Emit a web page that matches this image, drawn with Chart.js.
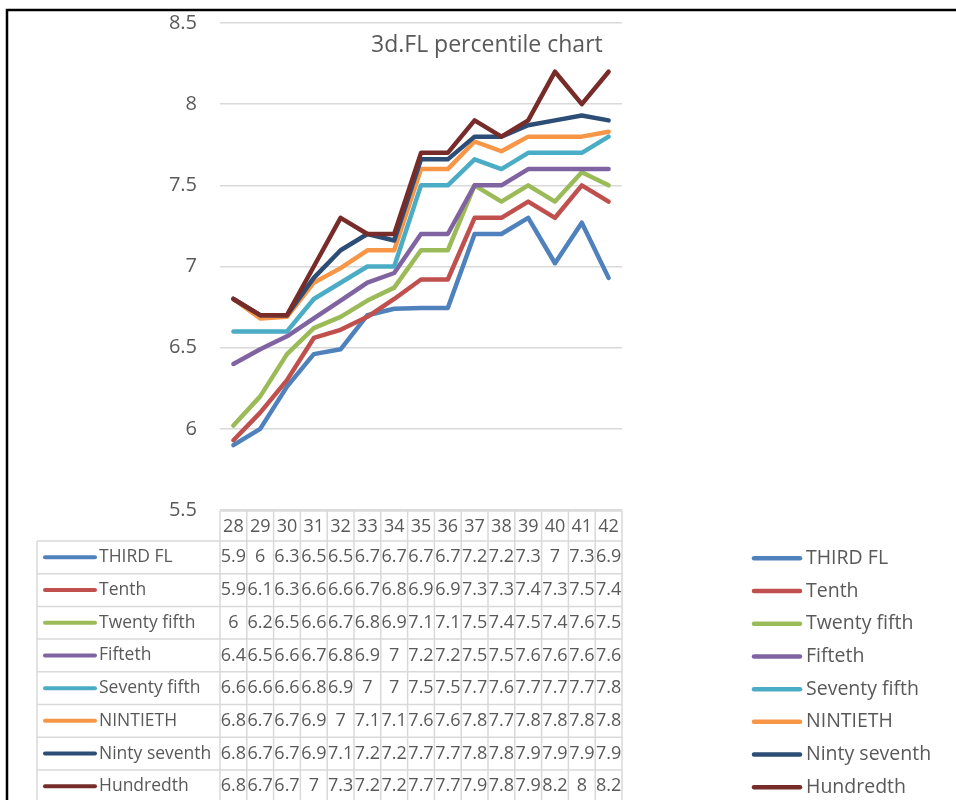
<!DOCTYPE html>
<html>
<head>
<meta charset="utf-8">
<script src="https://cdn.jsdelivr.net/npm/chart.js@4.4.1/dist/chart.umd.min.js"></script>
<style>
  html, body { margin: 0; padding: 0; background: #ffffff; }
  #wrap { position: relative; width: 956px; height: 800px; overflow: hidden; }
</style>
</head>
<body>
<div id="wrap"><canvas id="fl" width="956" height="800"></canvas></div>
<script>
// weeks along the x axis
const categories = ['28', '29', '30', '31', '32', '33', '34', '35', '36', '37', '38', '39', '40', '41', '42'];

// percentile series
const thirdFl      = [5.9, 6.0, 6.26, 6.46, 6.49, 6.7, 6.74, 6.745, 6.745, 7.2, 7.2, 7.3, 7.02, 7.27, 6.93];
const tenth        = [5.93, 6.1, 6.3, 6.56, 6.61, 6.69, 6.8, 6.92, 6.92, 7.3, 7.3, 7.4, 7.3, 7.5, 7.4];
const twentyFifth  = [6.02, 6.2, 6.46, 6.62, 6.69, 6.79, 6.87, 7.1, 7.1, 7.5, 7.4, 7.5, 7.4, 7.58, 7.5];
const fifteth      = [6.4, 6.49, 6.57, 6.68, 6.79, 6.9, 6.96, 7.2, 7.2, 7.5, 7.5, 7.6, 7.6, 7.6, 7.6];
const seventyFifth = [6.6, 6.6, 6.6, 6.8, 6.9, 7.0, 7.0, 7.5, 7.5, 7.66, 7.6, 7.7, 7.7, 7.7, 7.8];
const nintieth     = [6.8, 6.68, 6.69, 6.9, 6.99, 7.1, 7.1, 7.6, 7.6, 7.77, 7.71, 7.8, 7.8, 7.8, 7.83];
const nintySeventh = [6.8, 6.7, 6.7, 6.93, 7.1, 7.2, 7.16, 7.66, 7.66, 7.8, 7.8, 7.87, 7.9, 7.93, 7.9];
const hundredth    = [6.8, 6.7, 6.7, 7.0, 7.3, 7.2, 7.2, 7.7, 7.7, 7.9, 7.8, 7.9, 8.2, 8.0, 8.2];

const seriesNames = ['THIRD FL', 'Tenth', 'Twenty fifth', 'Fifteth', 'Seventy fifth', 'NINTIETH', 'Ninty seventh', 'Hundredth'];
const seriesData = [thirdFl, tenth, twentyFifth, fifteth, seventyFifth, nintieth, nintySeventh, hundredth];
const seriesColors = ['#4F81BD', '#C0504D', '#9BBB59', '#8064A2', '#4BACC6', '#F79646', '#2C4D75', '#772C2A'];

const chartTitle = '3d.FL percentile chart';

const textColor = '#595959';
const gridColor = '#d9d9d9';

// format a value the way the data table shows it
function cellText(v) {
    return String(Math.round(v * 10) / 10);
}

// draws the title, data table, right legend and the frame
const tablePlugin = {
    id: 'dataTable',
    afterDraw(chart) {
        const ctx = chart.ctx;
        const area = chart.chartArea;
        const xs = chart.scales.x;
        const colW = (area.right - area.left) / categories.length;
        const top = area.bottom + 1;
        const headH = 30;
        const rowH = 32.7;
        const bodyTop = top + headH;
        const legLeft = 37;
        const bottom = chart.height + 5;

        ctx.save();

        // title inside the plot
        ctx.fillStyle = textColor;
        ctx.font = '23px "Open Sans", sans-serif';
        ctx.textAlign = 'left';
        ctx.textBaseline = 'middle';
        ctx.fillText(chartTitle, 371, 45);

        // table grid
        ctx.strokeStyle = gridColor;
        ctx.lineWidth = 1.5;
        ctx.beginPath();
        ctx.moveTo(area.left, top);
        ctx.lineTo(area.right, top);
        for (let i = 0; i <= seriesNames.length; i++) {
            const y = bodyTop + i * rowH;
            ctx.moveTo(legLeft, y);
            ctx.lineTo(area.right, y);
        }
        for (let k = 0; k <= categories.length; k++) {
            const x = area.left + k * colW;
            ctx.moveTo(x, top);
            ctx.lineTo(x, bottom);
        }
        ctx.moveTo(legLeft, bodyTop);
        ctx.lineTo(legLeft, bottom);
        ctx.stroke();

        // header row
        ctx.fillStyle = textColor;
        ctx.textAlign = 'center';
        ctx.font = '18px "Open Sans", sans-serif';
        categories.forEach((c, i) => {
            ctx.fillText(c, xs.getPixelForValue(i), top + headH / 2 + 1);
        });

        // rows
        seriesNames.forEach((name, r) => {
            const cy = bodyTop + r * rowH + rowH / 2;

            // left legend key
            ctx.strokeStyle = seriesColors[r];
            ctx.lineWidth = 4;
            ctx.lineCap = 'round';
            ctx.beginPath();
            ctx.moveTo(45, cy);
            ctx.lineTo(95, cy);
            ctx.stroke();
            ctx.fillStyle = textColor;
            ctx.textAlign = 'left';
            ctx.font = '17.5px "Open Sans", sans-serif';
            ctx.fillText(name, 99, cy);

            // values
            ctx.textAlign = 'center';
            ctx.font = '18px "Open Sans", sans-serif';
            seriesData[r].forEach((v, i) => {
                ctx.fillText(cellText(v), xs.getPixelForValue(i), cy);
            });

            // right legend
            ctx.strokeStyle = seriesColors[r];
            ctx.lineWidth = 4.5;
            ctx.beginPath();
            ctx.moveTo(754, cy + 1);
            ctx.lineTo(800, cy + 1);
            ctx.stroke();
            ctx.textAlign = 'left';
            ctx.font = '19.5px "Open Sans", sans-serif';
            ctx.fillText(name, 806, cy + 1);
        });

        // black frame, top and left
        ctx.strokeStyle = '#000000';
        ctx.lineWidth = 2.5;
        ctx.lineCap = 'butt';
        ctx.beginPath();
        ctx.moveTo(7, chart.height + 2);
        ctx.lineTo(7, 10);
        ctx.lineTo(chart.width + 2, 10);
        ctx.stroke();

        ctx.restore();
    }
};

Chart.defaults.font.family = '"Open Sans", sans-serif';
Chart.defaults.color = textColor;

const ctx = document.getElementById('fl').getContext('2d');
new Chart(ctx, {
    type: 'line',
    data: {
        labels: categories,
        datasets: seriesNames.map((name, i) => ({
            label: name,
            data: seriesData[i],
            borderColor: seriesColors[i],
            backgroundColor: seriesColors[i],
            borderWidth: 4.5,
            pointRadius: 0,
            tension: 0,
            fill: false,
            borderJoinStyle: 'round',
            borderCapStyle: 'round',
            order: seriesNames.length - i
        }))
    },
    options: {
        responsive: false,
        maintainAspectRatio: false,
        animation: false,
        layout: {
            padding: { left: 0, top: 23, right: 334, bottom: 290 }
        },
        plugins: {
            legend: { display: false },
            title: { display: false },
            tooltip: { enabled: false }
        },
        scales: {
            x: {
                type: 'category',
                offset: true,
                grid: { display: false },
                border: { display: false },
                ticks: { display: false },
                afterFit(scale) { scale.height = 0; }
            },
            y: {
                min: 5.5,
                max: 8.5,
                grid: { color: gridColor, lineWidth: 1.5, drawTicks: false },
                border: { display: false },
                ticks: {
                    stepSize: 0.5,
                    padding: 23,
                    color: textColor,
                    font: { size: 20 },
                    callback: v => String(v)
                },
                afterFit(scale) {
                    scale.width = 220;
                    scale.paddingTop = 10;
                    scale.paddingBottom = 10;
                }
            }
        }
    },
    plugins: [tablePlugin]
});
</script>
</body>
</html>
